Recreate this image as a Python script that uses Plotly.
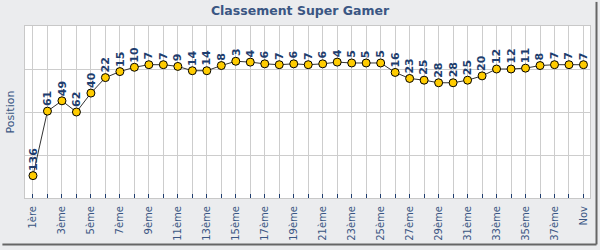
import plotly.graph_objects as go

categories = ["1ère"] + [f"{i}ème" for i in range(2, 39)] + ["Nov"]
positions = [136, 61, 49, 62, 40, 22, 15, 10, 7, 7, 9, 14, 14, 8, 3, 4, 6, 7, 6, 7,
             6, 4, 5, 5, 5, 16, 23, 25, 28, 28, 25, 20, 12, 12, 11, 8, 7, 7, 7]
title_text = "Classement Super Gamer"
y_title = "Position"

xs = list(range(len(categories)))

BG = "#EBECEE"
NAVY = "#3A5683"
LABEL = "#1E3D6E"
GRID = "#CDCDCD"

fig = go.Figure()
fig.add_trace(go.Scatter(
    x=xs, y=positions, mode="lines+markers",
    line=dict(color="#333333", width=1),
    marker=dict(size=8, color="#FFCC00", line=dict(color="#000000", width=1)),
    hoverinfo="skip", showlegend=False,
))

for x, v in zip(xs, positions):
    fig.add_annotation(
        x=x, y=v, text=f"<b>{v}</b>", textangle=-90, showarrow=False,
        xanchor="center", yanchor="bottom", yshift=3,
        font=dict(family="DejaVu Sans", size=11, color=LABEL),
    )

fig.update_layout(
    width=600, height=250,
    margin=dict(l=25, r=9, t=26, b=50),
    paper_bgcolor=BG, plot_bgcolor="white",
    font=dict(family="DejaVu Sans", color=NAVY),
    title=dict(text=f"<b>{title_text}</b>", x=0.5, xanchor="center", y=1, yanchor="top",
               yref="container", pad=dict(t=6),
               font=dict(family="DejaVu Sans", size=12.5, color=NAVY)),
    xaxis=dict(
        range=[-0.55, 38.45],
        tickmode="array", tickvals=xs[::2], ticktext=categories[::2],
        tickangle=-90, tickfont=dict(size=10, color=NAVY),
        ticks="inside", ticklen=4, tickcolor="#1E3D6E", tickwidth=1,
        showgrid=True, gridcolor=GRID, gridwidth=1,
        minor=dict(dtick=1, tick0=1, ticks="inside", ticklen=4, tickcolor="#1E3D6E",
                   showgrid=True, gridcolor=GRID, gridwidth=1),
        showline=True, linecolor="#C8C8C8", mirror=True, zeroline=False,
        ticklabelstandoff=3,
    ),
    yaxis=dict(
        range=[162, -38],
        tickmode="array", tickvals=[-38, 12, 62, 112, 162],
        showticklabels=False, ticks="",
        showgrid=True, gridcolor=GRID, gridwidth=1,
        showline=True, linecolor="#C8C8C8", mirror=True, zeroline=False,
        title=dict(text=y_title, font=dict(size=11, color=NAVY), standoff=7),
    ),
)

# frame shadow on the right and bottom edges of the image
fig.add_shape(type="line", xref="paper", yref="paper",
              x0=1.0115, x1=1.0115, y0=1.14, y1=-0.27,
              line=dict(color="#666666", width=2))
fig.add_shape(type="line", xref="paper", yref="paper",
              x0=-0.04, x1=1.0115, y0=-0.27, y1=-0.27,
              line=dict(color="#666666", width=2))

fig.write_html("out.html")
